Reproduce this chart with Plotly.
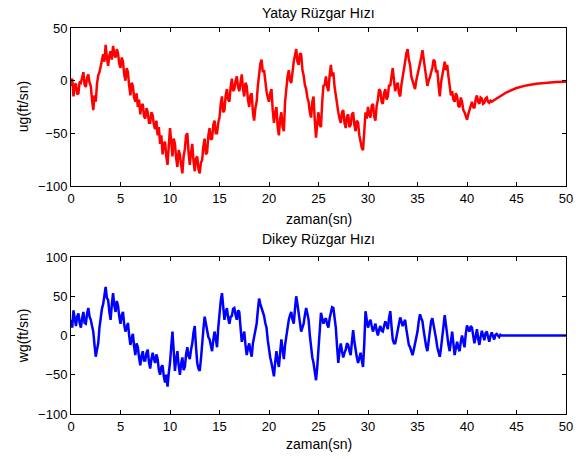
import numpy as np
import plotly.graph_objects as go
from plotly.subplots import make_subplots

# time step of the noisy part (s)
dt = 0.125

# Horizontal gust ug (ft/sn), sampled every 0.125 s from 0 to 42.5 s
ug_noisy = [
    -5, 2, -15, -4, -3, -13, -12, -1,
    -2, 4, 8, -4, -6, 3, 6, -2,
    -5, -18, -28, -14, -20, -3, 5, 8,
    15, 22, 25, 18, 34, 22, 14, 24,
    28, 20, 33, 25, 22, 30, 26, 16,
    12, 22, 18, 6, 0, 12, 8, -5,
    -14, -2, -5, -16, -20, -12, -25, -18,
    -32, -24, -22, -34, -36, -26, -30, -40,
    -40, -30, -33, -42, -46, -38, -52, -44,
    -60, -52, -70, -60, -58, -72, -80, -62,
    -45, -58, -72, -55, -60, -74, -82, -66,
    -70, -80, -88, -72, -65, -52, -50, -68,
    -80, -68, -60, -76, -86, -74, -72, -84,
    -88, -78, -75, -62, -55, -70, -68, -52,
    -45, -56, -55, -42, -38, -50, -50, -40,
    -35, -22, -15, -30, -28, -14, -8, -18,
    -20, -6, 2, -10, -8, 0, 4, -6,
    -10, -2, 6, -8, -15, -2, -5, -18,
    -25, -14, -12, -30, -38, -26, -20, -5,
    8, 16, 20, 8, 10, -2, -10, -16,
    -20, -12, -8, -28, -40, -30, -25, -44,
    -52, -36, -30, -44, -48, -20, -5, 4,
    10, 0, -2, 12, 18, 24, 30, 18,
    15, 26, 25, 10, 5, -4, -8, -16,
    -20, -30, -35, -20, -15, -38, -54, -40,
    -30, -42, -44, -20, -5, -4, 4, -6,
    -10, 5, 15, 4, 8, -6, -15, -24,
    -30, -36, -40, -30, -28, -40, -45, -34,
    -32, -44, -42, -32, -30, -42, -48, -38,
    -40, -52, -58, -64, -66, -44, -30, -36,
    -25, -32, -35, -24, -22, -34, -38, -24,
    -18, -8, -10, -20, -22, -12, -8, -18,
    -15, -4, -5, 4, 12, 0, -10, -4,
    -2, -12, -15, -4, 5, 12, 18, 26,
    30, 20, 15, 4, 0, -6, -8, 0,
    5, 12, 15, 22, 29, 20, 12, 2,
    -5, 0, 3, 8, 12, 20, 18, 8,
    10, -4, -15, -2, 5, 12, 18, 10,
    15, 4, -5, -14, -10, -18, -20, -12,
    -15, -24, -25, -16, -20, -28, -30, -34,
    -37, -32, -28, -22, -20, -25, -26, -18,
    -14, -20, -22, -16, -17, -22, -21, -17,
    -16, -20, -21, -19, -20,
]
# smooth decay of ug after 42.5 s
ug_tail_t = [43, 44, 45, 46, 47, 48, 49, 50]
ug_tail = [-17, -11, -7, -4.5, -3, -2, -1.2, -1]

# Vertical gust wg (ft/sn), sampled every 0.125 s from 0 to 43.5 s
wg_noisy = [
    20, 10, 32, 18, 12, 24, 28, 16,
    10, 22, 30, 16, 15, 28, 35, 24,
    20, 12, 5, -12, -27, -18, -10, 10,
    25, 34, 40, 50, 62, 48, 45, 30,
    20, 40, 54, 38, 30, 44, 38, 24,
    15, 26, 30, 14, 5, 10, 16, 0,
    -12, -4, 2, -14, -25, -10, -15, -28,
    -38, -26, -20, -32, -32, -22, -18, -34,
    -42, -30, -22, -30, -35, -24, -30, -44,
    -50, -40, -38, -52, -60, -50, -65, -48,
    -35, -14, 5, -20, -45, -30, -20, -38,
    -50, -36, -28, -44, -40, -24, -15, -26,
    -30, -18, -10, 4, 12, -14, -35, -42,
    -45, -30, -15, 8, 24, 16, 10, -2,
    -5, -14, -20, -6, 5, -4, -15, 10,
    30, 44, 54, 34, 20, 30, 35, 22,
    15, 24, 25, 34, 35, 26, 20, 32,
    30, 10, -8, -2, 5, -12, -25, -16,
    -10, -20, -27, -10, 0, 6, 15, 32,
    47, 40, 35, 28, 25, 16, 10, -6,
    -20, -28, -35, -44, -52, -34, -20, -32,
    -40, -22, -5, -18, -30, -12, 0, 12,
    20, 26, 30, 20, 15, 34, 50, 40,
    30, 14, 5, 10, 15, 26, 35, 28,
    20, 0, -20, -28, -35, -46, -57, -40,
    -20, 10, 29, 22, 15, 20, 22, 14,
    10, 22, 30, 36, 35, 22, 10, -14,
    -35, -20, -10, -20, -28, -22, -18, -10,
    -12, -20, -25, -8, 7, -8, -20, -28,
    -35, -26, -22, -32, -40, -10, 31, 20,
    10, 16, 20, 12, 5, 10, 15, 6,
    0, 8, 12, 6, 5, 12, 18, 14,
    8, 22, 31, 12, -5, -10, -10, -2,
    5, 16, 23, 18, 12, 16, 20, 8,
    -5, -12, -15, -22, -25, -18, -10, -2,
    5, 18, 27, 22, 18, 6, -5, -14,
    -20, -6, 10, 18, 22, 14, 8, -4,
    -15, -22, -27, -16, -5, 12, 26, 12,
    0, -12, -20, -6, 5, -10, -25, -16,
    -8, -16, -20, -8, 0, -8, -15, 2,
    13, 8, 5, 12, 10, 0, -10, -2,
    8, -4, -12, -2, 6, 0, -6, 3,
    5, -2, -8, 0, 4, -1, -5, 1,
    2, 0, -2, 1, 0,
]
wg_tail_t = [44, 50]
wg_tail = [0, 0]

x_ticks = [0, 5, 10, 15, 20, 25, 30, 35, 40, 45, 50]
ug_ticks = [-100, -50, 0, 50]
wg_ticks = [-100, -50, 0, 50, 100]

t_ug = list(np.arange(len(ug_noisy)) * dt) + ug_tail_t
y_ug = ug_noisy + ug_tail
t_wg = list(np.arange(len(wg_noisy)) * dt) + wg_tail_t
y_wg = wg_noisy + wg_tail

fig = make_subplots(rows=2, cols=1)
fig.add_trace(go.Scatter(x=t_ug, y=y_ug, mode="lines",
                         line=dict(color="#ff0000", width=2.5)), row=1, col=1)
fig.add_trace(go.Scatter(x=t_wg, y=y_wg, mode="lines",
                         line=dict(color="#0000ff", width=2.5)), row=2, col=1)

font = dict(family="Liberation Sans, Arial, sans-serif", size=13, color="black")
axis_common = dict(showline=True, linecolor="black", linewidth=1, mirror="allticks",
                   ticks="inside", ticklen=4, tickcolor="black", showgrid=False,
                   zeroline=False, tickfont=font)

fig.update_xaxes(range=[0, 50], tickvals=x_ticks, **axis_common)
fig.update_yaxes(**axis_common)
fig.update_yaxes(range=[-100, 50], tickvals=ug_ticks, domain=[0.5907, 1.0], row=1, col=1)
fig.update_yaxes(range=[-100, 100], tickvals=wg_ticks, domain=[0.0, 0.4067], row=2, col=1)

W, H = 585, 459
ml, mr, mt, mb = 71, 17, 28, 45
pw, ph = W - ml - mr, H - mt - mb
def py(pix):
    return (H - mb - pix) / ph
def px(pix):
    return (pix - ml) / pw

tf = dict(family="Liberation Sans, Arial, sans-serif", size=14, color="black")
texts = [
    ("Yatay Rüzgar Hızı", 319.5, 13, 0),
    ("Dikey Rüzgar Hızı", 319.5, 239, 0),
    ("zaman(sn)", 319.5, 219, 0),
    ("zaman(sn)", 319.5, 444, 0),
    ("ug(ft/sn)", 23, 107, -90),
    ("wg(ft/sn)", 23, 336, -90),
]
ann = []
for txt, xx, yy, ang in texts:
    ann.append(dict(text=txt, x=px(xx), y=py(yy), xref="paper", yref="paper",
                    xanchor="center", yanchor="middle", showarrow=False,
                    font=tf, textangle=ang))

fig.update_layout(width=W, height=H, margin=dict(l=ml, r=mr, t=mt, b=mb),
                  paper_bgcolor="white", plot_bgcolor="white", showlegend=False,
                  annotations=ann, font=font)

fig.write_html("out.html", config={"displayModeBar": False},
               post_script="document.body.style.margin='0px';document.body.style.padding='0px';")
